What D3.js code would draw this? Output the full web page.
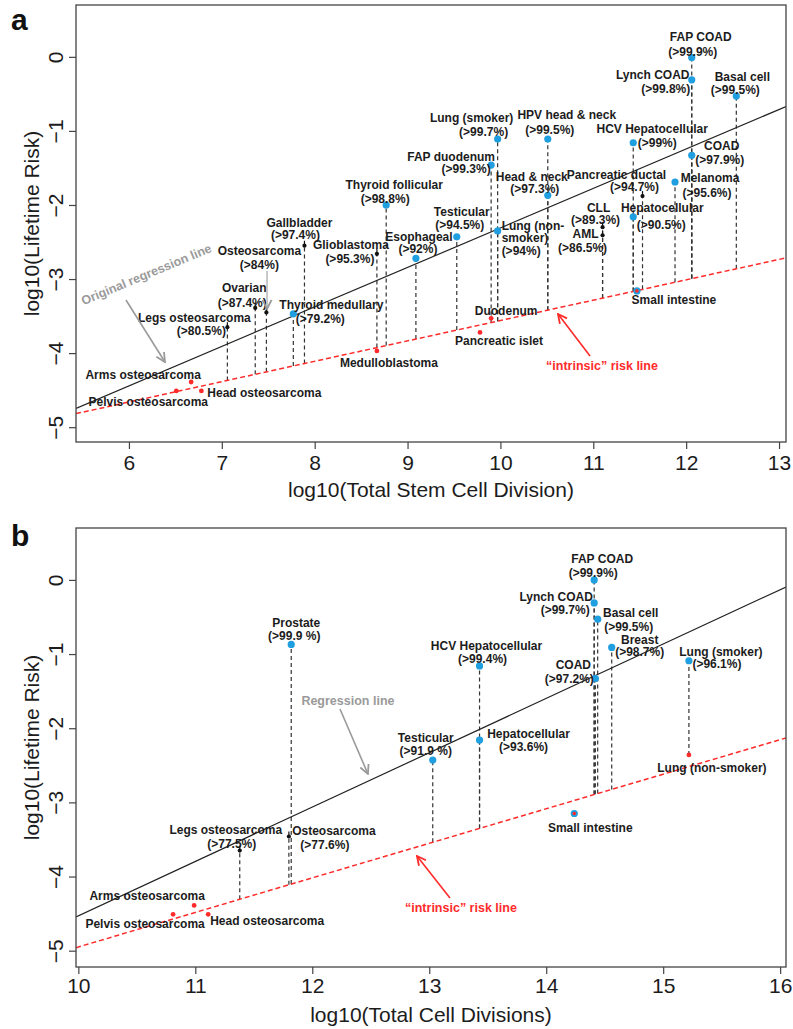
<!DOCTYPE html>
<html>
<head>
<meta charset="utf-8">
<script src="https://cdnjs.cloudflare.com/ajax/libs/d3/7.8.5/d3.min.js"></script>
<style>
  body { margin: 0; background: #fff; }
  svg text { font-family: Arial, "Liberation Sans", Helvetica, sans-serif; }
</style>
</head>
<body>
<div id="chart"></div>
<script>
// ---- Panel a data ---------------------------------------------------------
const namesA = ["FAP COAD", "Lynch COAD", "Basal cell", "Lung (smoker)", "HPV head & neck",
  "HCV Hepatocellular", "COAD", "FAP duodenum", "Head & neck", "Melanoma", "Pancreatic ductal",
  "Hepatocellular", "CLL", "AML", "Testicular", "Lung (non-smoker)", "Esophageal",
  "Thyroid follicular", "Gallbladder", "Glioblastoma", "Osteosarcoma", "Ovarian",
  "Thyroid medullary", "Legs osteosarcoma", "Arms  osteosarcoma", "Pelvis osteosarcoma",
  "Head osteosarcoma", "Medulloblastoma", "Duodenum", "Pancreatic islet", "Small intestine"]
const stemA = [12.06, 12.06, 12.54, 9.97, 10.51, 11.43, 12.06, 9.90, 10.51, 11.88, 11.53,
  11.43, 11.10, 11.10, 9.53, 9.97, 9.09, 8.77, 7.89, 8.67, 7.48, 7.36, 7.77, 7.06, 6.67, 6.51,
  6.78, 8.67, 9.90, 9.78, 11.47]
const riskA = [-0.01, -0.31, -0.53, -1.11, -1.11, -1.16, -1.33, -1.46, -1.87, -1.69, -1.88,
  -2.16, -2.30, -2.41, -2.43, -2.35, -2.72, -2.00, -2.55, -2.66, -3.45, -3.39, -3.47, -3.65,
  -4.39, -4.51, -4.51, -3.97, -3.53, -3.72, -3.16]
// b = blue, k = black, r = red, m = blue with red centre
const kindA = ["b", "b", "b", "b", "b", "b", "b", "b", "b", "b", "k", "b", "k", "k", "b", "b", "b",
  "b", "k", "k", "k", "k", "b", "k", "r", "r", "r", "r", "r", "r", "m"]
const pctA = [">99.9%", ">99.8%", ">99.5%", ">99.7%", ">99.5%", ">99%", ">97.9%", ">99.3%",
  ">97.3%", ">95.6%", ">94.7%", ">90.5%", ">89.3%", ">86.5%", ">94.5%", ">94%", ">92%",
  ">98.8%", ">97.4%", ">95.3%", ">84%", ">87.4%", ">79.2%", ">80.5%", "", "", "", "", "", "", ""]
const fitA = { regression: [-7.64, 0.533], intrinsic: [-6.31, 0.275] }  // [intercept, slope]

// ---- Panel b data ---------------------------------------------------------
const namesB = ["FAP COAD", "Lynch COAD", "Basal cell", "Breast", "Lung (smoker)",
  "HCV Hepatocellular", "COAD", "Hepatocellular", "Testicular", "Lung (non-smoker)",
  "Small intestine", "Prostate", "Legs osteosarcoma", "Osteosarcoma", "Arms  osteosarcoma",
  "Pelvis osteosarcoma", "Head osteosarcoma"]
const cellsB = [14.41, 14.41, 14.44, 14.56, 15.22, 13.43, 14.42, 13.43, 13.03, 15.22, 14.24,
  11.82, 11.38, 11.80, 10.99, 10.81, 11.11]
const riskB = [0.00, -0.31, -0.53, -0.91, -1.09, -1.16, -1.33, -2.16, -2.43, -2.36, -3.15,
  -0.87, -3.65, -3.46, -4.39, -4.51, -4.51]
const kindB = ["b", "b", "b", "b", "b", "b", "b", "b", "b", "r", "m", "b", "k", "k", "r", "r", "r"]
const pctB = [">99.9%", ">99.7%", ">99.5%", ">98.7%", ">96.1%", ">99.4%", ">97.2%", ">93.6%",
  ">91.9 %", "", "", ">99.9 %", ">77.5%", ">77.6%", "", "", ""]
const fitB = { regression: [-11.86, 0.733], intrinsic: [-9.61, 0.466] }
const dropToB = { "Lung (smoker)": "Lung (non-smoker)" }

const yTicks = [-5, -4, -3, -2, -1, 0]
const xTicksA = [6, 7, 8, 9, 10, 11, 12, 13]
const xTicksB = [10, 11, 12, 13, 14, 15, 16]

// label offsets in px from the point: [dx1, dy1, dx2, dy2] (line 1 = name, line 2 = percent)
const labelsA = [[9, -17, 1, -2], [-39, -1, -26, 13], [6, -15, -1, -2], [-26, -17, -14, -3],
  [19, -20, 2, -5], [19, -10, 24, 4], [30, -5, 28, 9], [-40, -4, -25, 8], [-16, -14, -13, -2],
  [35, 0, 32, 15], [-26, -17, -8, -5], [29, -5, 28, 12], [-4, -15, -7, -3], [-17, 3, -20, 17],
  [5, -21, 3, -8], null, [3, -17, 2, -5], [8, -16, -1, -2], [-5, -19, -9, -7],
  [-26, -5, -27, 9], [-7, -57, -7, -43], [-11, -16, -13, -1], [38, -5, 27, 9],
  [-33, -5, -26, 8], [-48, -3], [-28, 15], [63, 6], [12, 16], [15, -3], [19, 13], [37, 13]]
const labelsB = [[8, -17, -1, -3], [-38, -2, -29, 11], [33, -2, 31, 12], [28, -3, 28, 9],
  [32, -5, 28, 7], [7, -16, 3, -3], [-22, -10, -26, 4], [49, -2, 44, 11], [-7, -18, -7, -5],
  [23, 17], [16, 19], [5, -17, 3, -4], [-14, -17, -8, -3], [45, -1, 36, 13], [-47, -5],
  [-28, 14], [59, 11]]

const BLUE = '#1f9fe0'
const RED = '#ff2a2a'
const GREY = '#9a9a9a'
const INK = '#1c1c1c'

const svg = d3.select('#chart').append('svg')
  .attr('width', 793).attr('height', 1029)

const defs = svg.append('defs')
function arrowMarker(id, color) {
  defs.append('marker')
    .attr('id', id).attr('viewBox', '0 0 10 10')
    .attr('refX', 9).attr('refY', 5)
    .attr('markerWidth', 7).attr('markerHeight', 7)
    .attr('orient', 'auto')
    .append('path').attr('d', 'M1,1 L9,5 L1,9')
    .attr('fill', 'none').attr('stroke', color).attr('stroke-width', 1.6)
}
arrowMarker('arrGrey', GREY)
arrowMarker('arrRed', RED)

function drawPanel(p) {
  const w = p.right - p.left, h = p.bottom - p.top
  const ctr = svg.append('g').attr('transform', `translate(${p.left},${p.top})`)

  const xScale = d3.scaleLinear().domain(p.xDomain).range([0, w])
  const yScale = d3.scaleLinear().domain(p.yDomain).range([h, 0])

  const data = p.names.map((n, i) => ({
    name: n, x: p.xs[i], y: p.ys[i], kind: p.kinds[i], pct: p.pcts[i], lab: p.labels[i]
  }))
  const byName = new Map(data.map(d => [d.name, d]))
  const lineAt = (fit, x) => fit[0] + fit[1] * x

  ctr.append('clipPath').attr('id', 'clip' + p.letter)
    .append('rect').attr('width', w).attr('height', h)

  // dashed drop lines, drawn upward from the intrinsic line so shared columns keep one dash phase
  ctr.append('g').selectAll('line')
    .data(data.filter(d => d.kind === 'b' || d.kind === 'k'))
    .join('line')
    .attr('x1', d => xScale(d.x)).attr('x2', d => xScale(d.x))
    .attr('y1', d => {
      const to = p.dropTo && p.dropTo[d.name]
      return yScale(to ? byName.get(to).y : lineAt(p.fit.intrinsic, d.x))
    })
    .attr('y2', d => yScale(d.y))
    .attr('stroke', '#333').attr('stroke-width', 1.2)
    .attr('stroke-dasharray', '4,3')

  // fitted lines
  const fitG = ctr.append('g').attr('clip-path', `url(#clip${p.letter})`)
  const xs = p.xDomain
  fitG.append('line')
    .attr('x1', xScale(xs[0])).attr('y1', yScale(lineAt(p.fit.regression, xs[0])))
    .attr('x2', xScale(xs[1])).attr('y2', yScale(lineAt(p.fit.regression, xs[1])))
    .attr('stroke', '#222').attr('stroke-width', 1.2)
  fitG.append('line')
    .attr('x1', xScale(xs[0])).attr('y1', yScale(lineAt(p.fit.intrinsic, xs[0])))
    .attr('x2', xScale(xs[1])).attr('y2', yScale(lineAt(p.fit.intrinsic, xs[1])))
    .attr('stroke', RED).attr('stroke-width', 1.5)
    .attr('stroke-dasharray', '5,3')

  // points
  const pts = ctr.append('g')
  data.forEach(d => {
    const cx = xScale(d.x), cy = yScale(d.y)
    if (d.kind === 'b' || d.kind === 'm') {
      pts.append('circle').attr('cx', cx).attr('cy', cy).attr('r', 3.6).attr('fill', BLUE)
    }
    if (d.kind === 'm') {
      pts.append('circle').attr('cx', cx).attr('cy', cy).attr('r', 1.8).attr('fill', RED)
    }
    if (d.kind === 'r') {
      pts.append('circle').attr('cx', cx).attr('cy', cy).attr('r', 2.4).attr('fill', RED)
    }
    if (d.kind === 'k') {
      pts.append('line').attr('x1', cx).attr('x2', cx).attr('y1', cy - 5).attr('y2', cy)
        .attr('stroke', '#111').attr('stroke-width', 1.2)
      pts.append('circle').attr('cx', cx).attr('cy', cy).attr('r', 2.1).attr('fill', '#111')
    }
  })

  // point labels
  const labG = ctr.append('g')
    .attr('font-size', 12).attr('font-weight', 'bold').attr('fill', INK)
  data.forEach(d => {
    const cx = xScale(d.x), cy = yScale(d.y)
    if (!d.lab) {
      // three-line label, left aligned
      const parts = ['Lung (non-', 'smoker)', '(' + d.pct + ')']
      const dys = [-1, 11, 24]
      parts.forEach((t, j) => labG.append('text')
        .attr('x', cx + 4).attr('y', cy + dys[j]).text(t))
      return
    }
    labG.append('text').attr('text-anchor', 'middle')
      .attr('x', cx + d.lab[0]).attr('y', cy + d.lab[1]).text(d.name)
    if (d.pct) {
      labG.append('text').attr('text-anchor', 'middle')
        .attr('x', cx + d.lab[2]).attr('y', cy + d.lab[3]).text('(' + d.pct + ')')
    }
  })

  // annotations
  p.notes.forEach(n => {
    const t = ctr.append('text')
      .attr('text-anchor', 'middle').attr('font-weight', 'bold')
      .attr('font-size', n.size).attr('fill', n.color)
      .attr('x', xScale(n.at[0])).attr('y', yScale(n.at[1]))
      .text(n.text)
    if (n.rotate) {
      t.attr('transform', `rotate(${n.rotate},${xScale(n.at[0])},${yScale(n.at[1])})`)
    }
  })
  p.arrows.forEach(a => {
    ctr.append('line')
      .attr('x1', xScale(a.from[0])).attr('y1', yScale(a.from[1]))
      .attr('x2', xScale(a.to[0])).attr('y2', yScale(a.to[1]))
      .attr('stroke', a.color).attr('stroke-width', 1.6)
      .attr('marker-end', `url(#${a.marker})`)
  })

  // axes
  const xAxis = d3.axisBottom(xScale).tickValues(p.xTicks).tickSize(7).tickFormat(d3.format('d'))
  const xg = ctr.append('g').attr('transform', `translate(0,${h})`).call(xAxis)
  xg.select('.domain').remove()
  xg.selectAll('line').attr('stroke', '#444').attr('stroke-width', 1.2)
  xg.selectAll('text').attr('font-size', 21).attr('fill', INK)
    .attr('font-family', 'Arial, "Liberation Sans", sans-serif')
    .attr('y', p.tickBase - p.bottom).attr('dy', 0)

  const yAxis = d3.axisLeft(yScale).tickValues(yTicks).tickSize(7).tickFormat(d3.format('d'))
  const yg = ctr.append('g').call(yAxis)
  yg.select('.domain').remove()
  yg.selectAll('line').attr('stroke', '#444').attr('stroke-width', 1.2)
  yg.selectAll('text').attr('font-size', 21).attr('fill', INK)
    .attr('font-family', 'Arial, "Liberation Sans", sans-serif')
    .attr('text-anchor', 'middle')
    .attr('x', 0).attr('y', -13).attr('dy', 0)
    .attr('transform', 'rotate(-90)')

  // box
  ctr.append('rect').attr('width', w).attr('height', h)
    .attr('fill', 'none').attr('stroke', '#444').attr('stroke-width', 1.3)

  // axis titles
  svg.append('text').attr('text-anchor', 'middle').attr('font-size', 21).attr('fill', INK)
    .attr('x', (p.left + p.right) / 2).attr('y', p.titleBase).text(p.xTitle)
  svg.append('text').attr('text-anchor', 'middle').attr('font-size', 21).attr('fill', INK)
    .attr('transform', `translate(39,${(p.top + p.bottom) / 2}) rotate(-90)`)
    .text('log10(Lifetime Risk)')

  // panel letter
  svg.append('text').attr('font-size', 30).attr('font-weight', 'bold').attr('fill', '#111')
    .attr('x', 11).attr('y', p.letterBase).text(p.letter)
}

drawPanel({
  letter: 'a', letterBase: 30,
  left: 76, top: 5, right: 786, bottom: 442,
  xDomain: [5.43, 13.075], yDomain: [-5.2, 0.70],
  xTicks: xTicksA, tickBase: 470, titleBase: 497,
  xTitle: 'log10(Total Stem Cell Division)',
  names: namesA, xs: stemA, ys: riskA, kinds: kindA, pcts: pctA, labels: labelsA,
  fit: fitA, dropTo: null,
  notes: [
    { text: 'Original regression line', at: [6.205, -2.99], rotate: -22.6, size: 12.5, color: GREY },
    { text: '\u201cintrinsic\u201d risk line', at: [11.094, -4.228], size: 12.5, color: RED }
  ],
  arrows: [
    { from: [5.968, -3.283], to: [6.388, -4.120], color: GREY, marker: 'arrGrey' },
    { from: [7.487, -2.891], to: [7.487, -3.404], color: '#bbb', marker: 'arrGrey' },
    { from: [10.965, -4.039], to: [10.620, -3.472], color: RED, marker: 'arrRed' }
  ]
})

drawPanel({
  letter: 'b', letterBase: 546,
  left: 76, top: 528, right: 786, bottom: 967,
  xDomain: [9.98, 16.05], yDomain: [-5.22, 0.70],
  xTicks: xTicksB, tickBase: 993, titleBase: 1022,
  xTitle: 'log10(Total Cell Divisions)',
  names: namesB, xs: cellsB, ys: riskB, kinds: kindB, pcts: pctB, labels: labelsB,
  fit: fitB, dropTo: dropToB,
  notes: [
    { text: 'Regression line', at: [12.305, -1.687], size: 12.5, color: GREY },
    { text: '\u201cintrinsic\u201d risk line', at: [13.271, -4.478], size: 12.5, color: RED }
  ],
  arrows: [
    { from: [12.237, -1.741], to: [12.476, -2.617], color: GREY, marker: 'arrGrey' },
    { from: [13.177, -4.289], to: [12.895, -3.723], color: RED, marker: 'arrRed' }
  ]
})
</script>
</body>
</html>
